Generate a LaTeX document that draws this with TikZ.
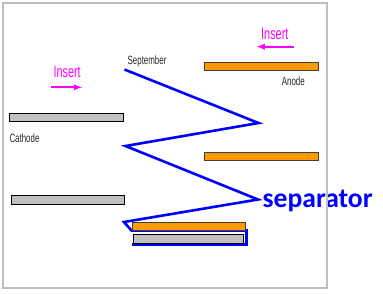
\documentclass[tikz,border=0pt]{standalone}
\usepackage{fontspec}
\setmainfont{Liberation Sans}
\newfontfamily\narrowfont[FakeStretch=0.66]{Liberation Sans}
\newfontfamily\sepfont{Carlito}
\usepackage{xcolor}
\usetikzlibrary{arrows, positioning, calc}

\definecolor{anodeorange}{HTML}{FF9900}
\definecolor{bargray}{HTML}{C0C0C0}
\definecolor{sepblue}{HTML}{0000FF}
\definecolor{insertpink}{HTML}{FF00FF}

\begin{document}
\begin{tikzpicture}[x=1pt, y=-1pt, >=latex]
    % Styles
    \tikzstyle{anodebar} = [rectangle, draw=black!75, fill=anodeorange, line width=0.9pt, minimum width=114pt, minimum height=8pt, inner sep=0pt]
    \tikzstyle{cathodebar} = [rectangle, draw=black, fill=bargray, line width=0.9pt, minimum width=114pt, minimum height=8pt, inner sep=0pt]
    \tikzstyle{barlabel} = [font=\narrowfont\fontsize{12}{13}\selectfont, text=black!85, inner sep=0pt]
    \tikzstyle{inserttext} = [font=\narrowfont\fontsize{16.5}{18}\selectfont, text=insertpink, inner sep=0pt]
    \tikzstyle{push} = [draw=insertpink, line width=1.8pt, ->]
    \tikzstyle{separatorline} = [draw=sepblue, line width=2.6pt, line join=miter]

    \useasboundingbox (0,0) rectangle (383,293);

    % Separator (zig-zag, wrapped round the last cathode)
    \coordinate (s1) at (124.5,69.5);
    \coordinate (s2) at (258.5,123);
    \coordinate (s3) at (125.5,146);
    \coordinate (s4) at (258,199.5);
    \coordinate (s5) at (124,222);
    \coordinate (s6) at (131.5,230.5);
    \coordinate (s7) at (246.5,230.5);
    \coordinate (s8) at (246.5,244.5);
    \coordinate (s9) at (132,244.5);
    \draw [separatorline] (s1) -- (s2) -- (s3) -- (s4) -- (s5) -- (s6) -- (s7) -- (s8) -- (s9);

    % Nodes
    \node [anodebar] (anodeTop) at (261,66) {};
    \node [anodebar, below=82pt of anodeTop] (anodeMid) {};
    \node [cathodebar] (cathodeTop) at (66,117) {};
    \node [cathodebar, minimum width=113pt, minimum height=9pt] (cathodeMid) at (67.5,199.5) {};
    \node [anodebar, minimum width=113pt] (anodeBot) at (188.5,226) {};
    \node [cathodebar, minimum width=110pt, minimum height=9pt, below=3.5pt of anodeBot] (cathodeBot) {};

    % Labels
    \node [barlabel, anchor=base west] (septLabel) at (127.5,64.7) {September};
    \node [barlabel, anchor=base west] (cathodeLabel) at (9.3,142) {Cathode};
    \node [barlabel, anchor=base east] (anodeLabel) at (305,85.7) {Anode};
    \node [inserttext, anchor=base west] (insertLeft) at (53.3,77) {Insert};
    \node [inserttext, anchor=base west] (insertRight) at (261,39) {Insert};
    \node [font=\sepfont\bfseries\fontsize{27.6}{30}\selectfont, text=sepblue, inner sep=0pt, anchor=base west] (sepLabel) at (262.5,207.7) {separator};

    % Insert arrows
    \coordinate (pushLeftA) at (51,87.3);
    \coordinate (pushLeftB) at (82,87.3);
    \coordinate (pushRightA) at (294,46.7);
    \coordinate (pushRightB) at (256.7,46.7);
    \draw [push] (pushLeftA) -- (pushLeftB);
    \draw [push] (pushRightA) -- (pushRightB);

    % Frame
    \draw [black!25, line width=2pt] (3,3) rectangle (327,288);
\end{tikzpicture}
\end{document}
